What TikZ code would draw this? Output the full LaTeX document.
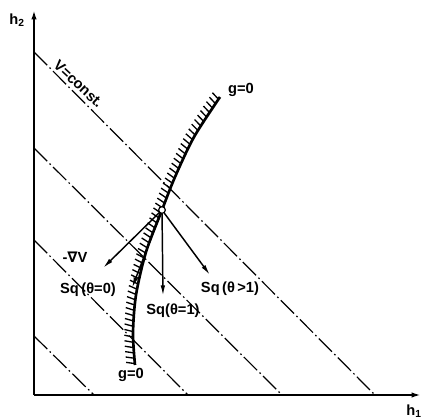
\documentclass[tikz,border=0pt]{standalone}
\usepackage{fontspec}
\setmainfont{Liberation Sans}
\newfontfamily\nablafont{DejaVu Sans}
\usetikzlibrary{arrows.meta,decorations.markings}
\tikzset{
  axis/.style={line width=1.6pt,-{Latex[length=7pt,width=4pt]}},
  levelline/.style={line width=0.9pt,dash pattern=on 14pt off 2.5pt on 1.2pt off 2.5pt},
  vec/.style={line width=1.1pt,-{Latex[length=8pt,width=3.4pt]}},
  lab/.style={font=\fontsize{11}{13}\selectfont\bfseries,inner sep=1pt},
  hatched/.style={line width=2pt,postaction={decorate},
    decoration={markings,mark=between positions 0.005 and 0.995 step 4pt
      with {\draw[line width=1pt] (0,0) -- (1.5pt,6.5pt);}}}
}
\begin{document}
\begin{tikzpicture}[x=7.5pt,y=7.5pt]
\useasboundingbox (0,0) rectangle (42.2,41.9);
% axes
\coordinate (O) at (3.4,2.4);
\coordinate (h1end) at (42.1,2.4);
\coordinate (h2end) at (3.4,40.9);
\draw[axis] (O) -- (h1end);
\draw[axis] (O) -- (h2end);
\node[lab] (h1) at (41.4,0.8) {h\textsubscript{1}};
\node[lab] (h2) at (1.7,39.9) {h\textsubscript{2}};
% level lines V = const
\foreach \a/\b in {36.7/37.5,27.1/28.2,17.9/18.8,8.3/9.4}
  \draw[levelline] (3.4,\a) -- (\b,2.4);
\node[lab,rotate=-43,anchor=south] (Vc) at (7.4,33.0) {V=const.};
% constraint g = 0
\draw[hatched] plot[smooth] coordinates {(13.5,5.4) (13.3,8.6) (13.6,12.4) (14.6,16.7)
  (16.2,20.9) (17.5,24.2) (19.4,28.2) (22.0,32.2)};
\node[lab] (gtop) at (24.1,32.9) {g=0};
\node[lab] (gbot) at (13.1,4.4) {g=0};
% directions at the point
\node[circle,draw,line width=0.9pt,fill=white,inner sep=0pt,minimum size=5pt] (P) at (16.2,20.9) {};
\coordinate (gradV) at (10.3,15.1);
\coordinate (sq0) at (13.2,13.1);
\coordinate (sq1) at (16.3,12.3);
\coordinate (sqg) at (21.0,14.4);
\draw[vec] (P) -- (gradV);
\draw[vec] (P) -- (sq0);
\draw[vec] (P) -- (sq1);
\draw[vec] (P) -- (sqg);
\node[lab] (lgrad) at (7.5,16.2) {-{\nablafont\bfseries ∇}V};
\node[lab] (lsq0) at (8.8,12.9) {Sq\,(θ=0)};
\node[lab] (lsq1) at (17.3,10.8) {Sq(θ=1)};
\node[lab] (lsqg) at (23.0,13.0) {Sq\,(θ\,>1)};
\end{tikzpicture}
\end{document}
